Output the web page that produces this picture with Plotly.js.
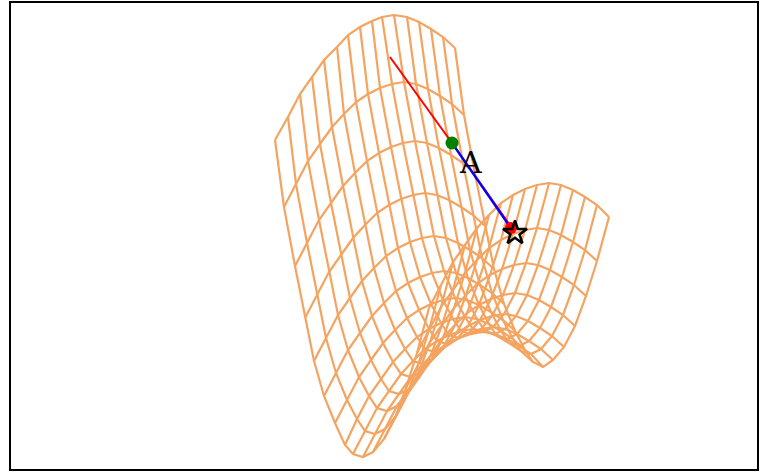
<!DOCTYPE html>
<html><head><meta charset="utf-8"><script src="https://cdn.plot.ly/plotly-3.0.1.min.js"></script>
<style>html,body{margin:0;padding:0;background:#fff}#c{width:767px;height:473px}</style></head><body><div id="c"></div>
<script>
const gridX = [
[275,288,300,312,324,337,348,360,372,382,394,407,419,431,443,455],
[284,296,308,320,332,344,356,368,380,392,404,416,428,440,452,464],
[295,307,319,331,343,355,367,379,391,403,415,427,439,451,463,475],
[305,317,329,341,353,365,377,389,401,413,425,437,449,461,473,485],
[314,326,338,350,362,374,386,398,410,422,434,446,458,470,482,494],
[324,336,348,360,372,384,396,408,420,432,444,456,468,480,492,504],
[335,347,359,371,383,395,407,419,431,443,455,467,479,491,503,515],
[345,357,369,381,393,405,417,429,441,453,465,477,489,501,513,525],
[353,365,377,389,401,413,425,437,449,461,473,485,497,509,521,533],
[363,375,387,399,411,423,435,447,459,471,483,495,507,519,531,543],
[373,385,397,409,421,433,445,457,469,481,493,505,517,529,541,553],
[384,396,408,420,432,444,456,468,480,492,504,516,528,540,552,564],
[395,407,419,431,443,455,467,479,491,503,515,527,539,551,563,575],
[406,418,430,442,454,466,478,490,502,514,526,538,550,562,574,586],
[417,429,441,453,465,477,489,501,513,525,537,549,561,573,585,597],
[429,441,453,465,477,489,501,513,525,537,549,561,573,585,597,609]];
const gridY = [
[140,117,94,77,60,47,35,27,21,17,15,17,22,29,37,48],
[207,184,161,144,127,114,102,94,88,84,82,84,89,96,104,115],
[266,243,220,203,186,173,161,153,147,143,141,143,148,155,163,174],
[318,295,272,255,238,225,213,205,199,195,193,195,200,207,215,226],
[361,338,315,298,281,268,256,248,242,238,236,238,243,250,258,269],
[396,373,350,333,316,303,291,283,277,273,271,273,278,285,293,304],
[423,400,377,360,343,330,318,310,304,300,298,300,305,312,320,331],
[445,419,396,379,362,349,337,329,323,319,317,319,324,331,339,350],
[454,431,408,391,374,361,349,341,335,331,329,331,336,343,351,362],
[457,434,411,394,377,364,352,344,338,334,332,334,339,346,354,367],
[452,429,406,389,372,359,347,339,333,329,327,329,334,341,349,360],
[439,416,393,376,359,346,334,326,320,316,314,316,321,328,336,347],
[418,395,372,355,338,325,313,305,299,295,293,295,300,307,315,326],
[388,365,342,325,308,295,283,275,269,265,263,265,270,277,285,296],
[353,330,307,290,273,260,248,240,234,230,228,230,235,242,250,261],
[308,285,262,245,228,215,203,195,189,185,183,185,190,197,205,217]];
const redPathX = [390,452,512];
const redPathY = [57,143,228];
const bluePathX = [452,508];
const bluePathY = [143,224];
const startPoint = {x:[452], y:[143]};
const endPoint = {x:[511], y:[228]};
const starPoint = {x:[515], y:[233]};
const labelA = {x:470, y:162, text:'A'};
const wire='#F4A460';
const traces=[];
for(let i=0;i<gridX.length;i++){
  traces.push({x:gridX[i],y:gridY[i],mode:'lines',line:{color:wire,width:2.2}});
}
for(let j=0;j<gridX[0].length;j++){
  traces.push({x:gridX.map(r=>r[j]),y:gridY.map(r=>r[j]),mode:'lines',line:{color:wire,width:2.2}});
}
traces.push({x:redPathX,y:redPathY,mode:'lines',line:{color:'#ff0000',width:2}});
traces.push({x:bluePathX,y:bluePathY,mode:'lines',line:{color:'#0000ff',width:2.2}});
traces.push({x:endPoint.x,y:endPoint.y,mode:'markers',marker:{symbol:'circle',size:12,color:'#ff0000'}});
traces.push({x:startPoint.x,y:startPoint.y,mode:'markers',marker:{symbol:'circle',size:13,color:'#008000'}});
traces.push({x:starPoint.x,y:starPoint.y,mode:'markers',marker:{symbol:'star-open',size:18,color:'#000',line:{color:'#000',width:2.5}}});
const ax={showgrid:false,zeroline:false,showticklabels:false,ticks:'',showline:true,mirror:true,linecolor:'#000',linewidth:2};
Plotly.newPlot('c',traces,{
  width:767,height:473,showlegend:false,paper_bgcolor:'#fff',plot_bgcolor:'#fff',
  margin:{l:11,r:10,t:3,b:4,pad:0},
  xaxis:Object.assign({range:[11,757]},ax),
  yaxis:Object.assign({range:[469,3]},ax),
  annotations:[{x:labelA.x,y:labelA.y,text:labelA.text,showarrow:false,xref:'x',yref:'y',font:{family:'DejaVu Serif',size:30,color:'#000'}}]
},{displayModeBar:false,staticPlot:true});
</script></body></html>
